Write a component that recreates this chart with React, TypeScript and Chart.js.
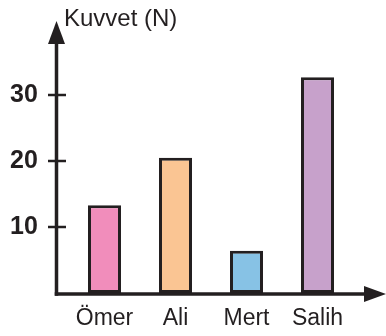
import React, { useEffect, useRef } from "react";
import { Chart, registerables } from "chart.js";

Chart.register(...registerables);

const categories = ["Ömer", "Ali", "Mert", "Salih"];
const forces = [13.3, 20.5, 6.4, 32.7];
const barColors = ["#f18dbb", "#fac593", "#87c2e5", "#c7a1cb"];
const yTicks = [10, 20, 30];
const axisTitle = "Kuvvet (N)";

const FONT = "'Liberation Sans', Arial, sans-serif";
const INK = "#231f20";

const axesPlugin = {
  id: "arrowAxes",
  afterDatasetsDraw(chart: any) {
    const ctx = chart.ctx;
    const ys = chart.scales.y;
    const y0 = ys.getPixelForValue(0) + 1;
    const ax = 56.5;
    ctx.save();
    ctx.strokeStyle = INK;
    ctx.fillStyle = INK;
    ctx.lineWidth = 3.5;
    // y axis
    ctx.beginPath();
    ctx.moveTo(ax, y0 + 1.75);
    ctx.lineTo(ax, 40);
    ctx.stroke();
    ctx.beginPath();
    ctx.moveTo(ax, 21);
    ctx.lineTo(ax + 8.5, 44);
    ctx.lineTo(ax - 8.5, 44);
    ctx.closePath();
    ctx.fill();
    // x axis
    ctx.beginPath();
    ctx.moveTo(ax - 1.75, y0);
    ctx.lineTo(370, y0);
    ctx.stroke();
    ctx.beginPath();
    ctx.moveTo(386, y0);
    ctx.lineTo(364, y0 - 8);
    ctx.lineTo(364, y0 + 8);
    ctx.closePath();
    ctx.fill();
    // tick marks
    ctx.lineWidth = 2.5;
    yTicks.forEach((v) => {
      const py = ys.getPixelForValue(v);
      ctx.beginPath();
      ctx.moveTo(48, py);
      ctx.lineTo(66, py);
      ctx.stroke();
    });
    // axis title
    ctx.font = `24px ${FONT}`;
    ctx.textAlign = "left";
    ctx.textBaseline = "alphabetic";
    ctx.fillText(axisTitle, 64, 26);
    ctx.restore();
  },
};

export default function App() {
  const ref = useRef<HTMLCanvasElement>(null);
  useEffect(() => {
    if (!ref.current) return;
    const chart = new Chart(ref.current, {
      type: "bar",
      data: {
        labels: categories,
        datasets: [
          {
            data: forces,
            backgroundColor: barColors,
            borderColor: INK,
            borderWidth: 3,
            borderSkipped: false,
            categoryPercentage: 1,
            barPercentage: 0.465,
          },
        ],
      },
      options: {
        responsive: false,
        animation: false,
        devicePixelRatio: 1,
        layout: { padding: { top: 62, right: 33, left: 10, bottom: 0 } },
        plugins: { legend: { display: false }, tooltip: { enabled: false } },
        scales: {
          x: {
            grid: { display: false, drawTicks: false },
            border: { display: false },
            ticks: {
              color: INK,
              font: { family: FONT, size: 23 },
              padding: 12,
              maxRotation: 0,
              autoSkip: false,
            },
            afterFit(scale: any) {
              scale.height = 43;
            },
          },
          y: {
            min: 0,
            max: 35,
            grid: { display: false, drawTicks: false },
            border: { display: false },
            ticks: {
              color: INK,
              font: { family: FONT, size: 25, weight: "bold" },
              padding: 0,
              crossAlign: "far",
            },
            afterBuildTicks(scale: any) {
              scale.ticks = yTicks.map((v) => ({ value: v }));
            },
            afterFit(scale: any) {
              scale.width = 59;
            },
          },
        },
      },
      plugins: [axesPlugin],
    });
    return () => chart.destroy();
  }, []);
  return (
    <div style={{ position: "absolute", left: 0, top: 0, width: 386, height: 336, background: "#fff" }}>
      <canvas ref={ref} width={386} height={336} />
    </div>
  );
}
